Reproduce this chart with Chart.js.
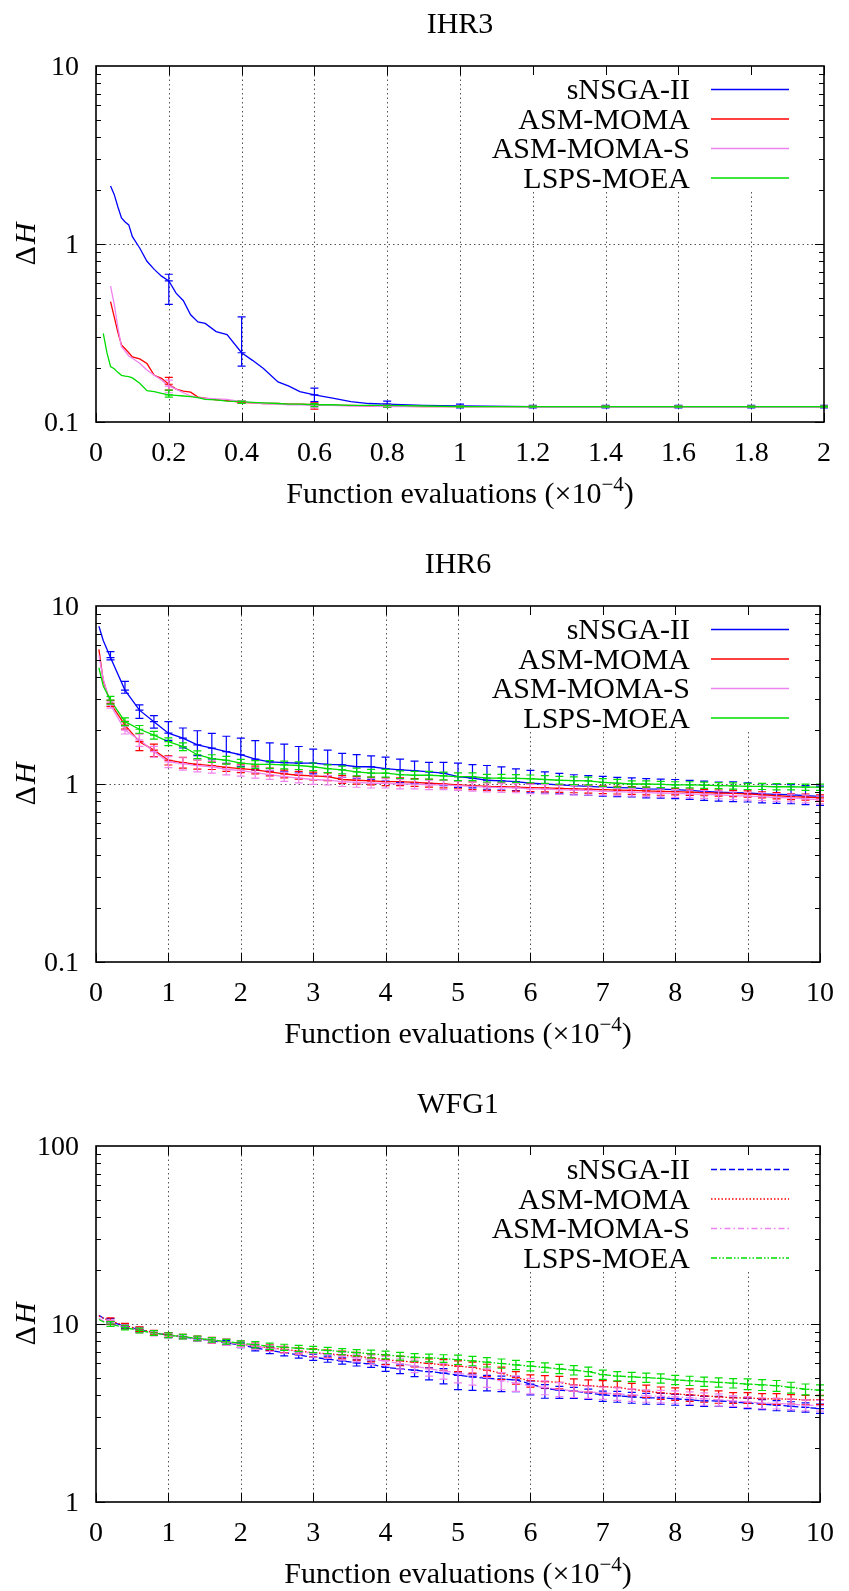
<!DOCTYPE html>
<html>
<head>
<meta charset="utf-8">
<script src="https://cdn.jsdelivr.net/npm/chart.js@4.4.1/dist/chart.umd.min.js"></script>
<style>
  html, body { margin: 0; padding: 0; background: #fff; overflow: hidden; }
  .panel { position: relative; width: 849px; height: 540px; }
  canvas { display: block; }
</style>
</head>
<body>
<div class="panel"><canvas id="ihr3" width="849" height="540"></canvas></div>
<div class="panel"><canvas id="ihr6" width="849" height="540"></canvas></div>
<div class="panel"><canvas id="wfg1" width="849" height="540"></canvas></div>

<script>
// ---- shared ----
const seriesNames = ['sNSGA-II', 'ASM-MOMA', 'ASM-MOMA-S', 'LSPS-MOEA'];
const seriesColors = ['#0000ff', '#ff0000', '#ee82ee', '#00dd00'];
const wfgDashes = [[6, 3], [1.5, 2], [6, 3, 1.5, 3], [6, 2, 1.5, 2, 1.5, 2]];

// ---- IHR3 ----
const ihr3X = [0.02, 0.03, 0.04, 0.05, 0.06, 0.07, 0.08, 0.09, 0.1, 0.12, 0.14, 0.16, 0.18, 0.2, 0.22, 0.24, 0.26, 0.28, 0.3, 0.33, 0.36, 0.4, 0.43, 0.46, 0.5, 0.53, 0.56, 0.6, 0.65, 0.7, 0.75, 0.8, 0.9, 1.0, 1.2, 1.4, 1.6, 1.8, 2.0];
const ihr3Blue = [null, null, 2.12, 1.9, 1.62, 1.40, 1.33, 1.28, 1.10, 0.95, 0.80, 0.72, 0.66, 0.62, 0.53, 0.48, 0.40, 0.365, 0.358, 0.322, 0.31, 0.245, 0.222, 0.20, 0.168, 0.159, 0.148, 0.142, 0.136, 0.13, 0.127, 0.126, 0.124, 0.123, 0.122, 0.122, 0.122, 0.122, 0.122];
const ihr3Red = [null, null, 0.474, 0.39, 0.32, 0.271, 0.258, 0.245, 0.232, 0.226, 0.213, 0.183, 0.176, 0.163, 0.153, 0.149, 0.147, 0.138, 0.136, 0.133, 0.132, 0.129, 0.128, 0.127, 0.127, 0.126, 0.126, 0.125, 0.124, 0.124, 0.123, 0.123, 0.122, 0.122, 0.122, 0.122, 0.122, 0.122, 0.122];
const ihr3Pink = [null, null, 0.58, 0.46, 0.34, 0.265, 0.25, 0.235, 0.228, 0.214, 0.196, 0.183, 0.172, 0.159, 0.153, 0.146, 0.14, 0.137, 0.136, 0.135, 0.134, 0.13, 0.128, 0.127, 0.126, 0.125, 0.125, 0.124, 0.124, 0.123, 0.123, 0.122, 0.122, 0.122, 0.122, 0.122, 0.122, 0.122, 0.122];
const ihr3Green = [0.315, 0.245, 0.205, 0.199, 0.19, 0.183, 0.181, 0.18, 0.177, 0.165, 0.15, 0.148, 0.145, 0.142, 0.141, 0.14, 0.139, 0.137, 0.134, 0.133, 0.131, 0.13, 0.129, 0.128, 0.127, 0.126, 0.126, 0.125, 0.125, 0.124, 0.124, 0.124, 0.123, 0.122, 0.122, 0.122, 0.122, 0.122, 0.122];
// error bars (absolute low / high)
const ihr3BarX = [0.2, 0.4, 0.6, 0.8, 1.0, 1.2, 1.4, 1.6, 1.8, 2.0];
const ihr3BlueLo = [0.458, 0.206, 0.130, 0.121, 0.120, 0.120, 0.120, 0.120, 0.120, 0.120];
const ihr3BlueHi = [0.676, 0.39, 0.155, 0.131, 0.126, 0.124, 0.124, 0.124, 0.124, 0.124];
const ihr3RedLo = [0.151, 0.127, 0.118, 0.121, 0.121, 0.121, 0.121, 0.121, 0.121, 0.121];
const ihr3RedHi = [0.178, 0.132, 0.128, 0.124, 0.123, 0.123, 0.123, 0.123, 0.123, 0.123];
const ihr3PinkLo = [0.146, 0.127, 0.120, 0.121, 0.121, 0.121, 0.121, 0.121, 0.121, 0.121];
const ihr3PinkHi = [0.172, 0.132, 0.127, 0.124, 0.123, 0.123, 0.123, 0.123, 0.123, 0.123];
const ihr3GreenLo = [0.138, 0.127, 0.122, 0.121, 0.121, 0.121, 0.121, 0.121, 0.121, 0.121];
const ihr3GreenHi = [0.151, 0.131, 0.127, 0.124, 0.123, 0.123, 0.123, 0.123, 0.123, 0.123];
const ihr3XTicks = [0, 0.2, 0.4, 0.6, 0.8, 1, 1.2, 1.4, 1.6, 1.8, 2];
const ihr3XLabels = ['0', '0.2', '0.4', '0.6', '0.8', '1', '1.2', '1.4', '1.6', '1.8', '2'];

// ---- IHR6 ----  (first two points are the start, then one every 0.2)
const ihr6X = [0.04, 0.1, 0.2, 0.4, 0.6, 0.8, 1, 1.2, 1.4, 1.6, 1.8, 2, 2.2, 2.4, 2.6, 2.8, 3, 3.2, 3.4, 3.6, 3.8, 4, 4.2, 4.4, 4.6, 4.8, 5, 5.2, 5.4, 5.6, 5.8, 6, 6.2, 6.4, 6.6, 6.8, 7, 7.2, 7.4, 7.6, 7.8, 8, 8.2, 8.4, 8.6, 8.8, 9, 9.2, 9.4, 9.6, 9.8, 10];
const ihr6Blue = [7.7, 6.4, 5.13, 3.37, 2.6, 2.24, 1.93, 1.81, 1.66, 1.59, 1.52, 1.46, 1.38, 1.33, 1.32, 1.31, 1.31, 1.29, 1.28, 1.25, 1.25, 1.22, 1.20, 1.19, 1.17, 1.15, 1.10, 1.08, 1.05, 1.04, 1.03, 1.01, 1.0, 0.99, 0.98, 0.97, 0.96, 0.955, 0.95, 0.94, 0.935, 0.93, 0.92, 0.91, 0.90, 0.895, 0.89, 0.88, 0.875, 0.87, 0.86, 0.853];
const ihr6Red = [5.7, 3.8, 2.84, 2.14, 1.73, 1.55, 1.36, 1.32, 1.29, 1.27, 1.24, 1.22, 1.20, 1.17, 1.14, 1.12, 1.11, 1.10, 1.06, 1.05, 1.04, 1.03, 1.03, 1.02, 1.01, 1.0, 0.99, 0.98, 0.97, 0.965, 0.96, 0.955, 0.95, 0.945, 0.94, 0.935, 0.93, 0.925, 0.92, 0.915, 0.91, 0.905, 0.9, 0.895, 0.89, 0.885, 0.88, 0.87, 0.86, 0.85, 0.845, 0.835];
const ihr6Pink = [5.3, 3.9, 2.78, 2.01, 1.77, 1.52, 1.33, 1.30, 1.27, 1.25, 1.21, 1.19, 1.16, 1.13, 1.10, 1.08, 1.06, 1.05, 1.03, 1.02, 1.01, 1.01, 1.0, 1.0, 0.99, 0.99, 0.98, 0.97, 0.96, 0.955, 0.95, 0.94, 0.935, 0.93, 0.925, 0.92, 0.91, 0.905, 0.9, 0.895, 0.89, 0.885, 0.88, 0.875, 0.87, 0.86, 0.855, 0.85, 0.84, 0.835, 0.825, 0.815];
const ihr6Green = [4.5, 3.55, 2.96, 2.24, 2.03, 1.88, 1.73, 1.62, 1.46, 1.39, 1.36, 1.31, 1.29, 1.29, 1.28, 1.27, 1.25, 1.22, 1.20, 1.17, 1.15, 1.15, 1.13, 1.12, 1.12, 1.11, 1.10, 1.10, 1.08, 1.08, 1.075, 1.07, 1.06, 1.05, 1.045, 1.04, 1.02, 1.01, 1.0, 1.0, 0.995, 0.99, 0.99, 0.985, 0.98, 0.975, 0.97, 0.97, 0.965, 0.965, 0.96, 0.96];
// error bars at x = 0.2 ... 10, in percent of the value (up / down)
const ihr6BlueUp = [8, 12, 7, 8, 16, 14, 20, 21, 22, 24, 27, 28, 27, 24, 20, 20, 16, 17, 15, 16, 15, 13, 13, 15, 19, 19, 21, 20, 18, 18, 17, 16, 15, 15, 15, 14, 14, 14, 14, 14, 14, 14, 14, 15, 14, 14, 14, 14, 14, 14];
const ihr6BlueDn = [3, 4, 10, 8, 9, 12, 13, 13, 14, 14, 13, 11, 11, 12, 13, 14, 15, 14, 15, 15, 15, 15, 14, 15, 13, 12, 11, 11, 11, 11, 11, 11, 11, 11, 11, 11, 11, 11, 11, 11, 11, 11, 11, 11, 11, 11, 11, 11, 11, 11];
const ihr6RedErr = [4, 5, 11, 8, 6, 7, 6, 5, 5, 5, 5, 5, 5, 5, 5, 5, 5, 5, 5, 5, 5, 5, 5, 5, 5, 5, 5, 5, 5, 5, 5, 5, 5, 5, 5, 5, 5, 5, 5, 4, 4, 4, 4, 4, 4, 4, 4, 4, 4, 4];
const ihr6PinkErr = [4, 5, 8, 7, 7, 8, 8, 8, 7, 7, 7, 6, 6, 6, 6, 6, 6, 6, 6, 6, 6, 6, 6, 6, 6, 6, 6, 6, 6, 6, 6, 6, 6, 6, 5, 5, 5, 5, 5, 5, 5, 5, 5, 5, 5, 5, 5, 5, 5, 5];
const ihr6GreenErr = [5, 5, 5, 5, 5, 5, 5, 5, 5, 5, 5, 5, 5, 5, 5, 5, 5, 5, 5, 5, 5, 5, 5, 5, 5, 5, 5, 5, 5, 5, 5, 5, 5, 5, 5, 5, 4, 4, 4, 4, 4, 4, 4, 4, 4, 4, 4, 4, 4, 4];
const tenXTicks = [0, 1, 2, 3, 4, 5, 6, 7, 8, 9, 10];
const tenXLabels = ['0', '1', '2', '3', '4', '5', '6', '7', '8', '9', '10'];

// ---- WFG1 ----
const wfg1X = ihr6X;
const wfg1Blue = [11.2, 10.8, 10.3, 9.7, 9.3, 8.9, 8.65, 8.45, 8.25, 8.05, 7.85, 7.6, 7.35, 7.1, 6.9, 6.7, 6.5, 6.35, 6.2, 6.05, 5.95, 5.7, 5.6, 5.5, 5.4, 5.3, 5.15, 5.05, 4.95, 4.9, 4.85, 4.6, 4.35, 4.25, 4.2, 4.1, 4.0, 3.95, 3.9, 3.85, 3.85, 3.8, 3.75, 3.7, 3.7, 3.65, 3.6, 3.55, 3.5, 3.45, 3.4, 3.35];
const wfg1Red = [11.1, 10.8, 10.4, 9.8, 9.35, 8.95, 8.7, 8.5, 8.3, 8.1, 7.9, 7.7, 7.5, 7.35, 7.2, 7.05, 6.9, 6.8, 6.7, 6.6, 6.45, 6.3, 6.2, 6.1, 6.0, 5.9, 5.8, 5.7, 5.5, 5.3, 5.0, 4.8, 4.75, 4.7, 4.55, 4.5, 4.45, 4.4, 4.3, 4.2, 4.1, 4.05, 4.0, 3.95, 3.9, 3.85, 3.85, 3.8, 3.8, 3.78, 3.75, 3.75];
const wfg1Pink = [10.8, 10.4, 10.1, 9.6, 9.2, 8.85, 8.6, 8.45, 8.25, 8.05, 7.9, 7.7, 7.5, 7.3, 7.15, 7.0, 6.85, 6.75, 6.6, 6.45, 6.3, 6.2, 6.0, 5.8, 5.6, 5.45, 5.3, 5.15, 5.0, 4.8, 4.65, 4.5, 4.4, 4.3, 4.2, 4.15, 4.1, 4.05, 4.0, 3.95, 3.92, 3.9, 3.85, 3.8, 3.75, 3.7, 3.65, 3.6, 3.58, 3.55, 3.5, 3.48];
const wfg1Green = [10.6, 10.3, 10.0, 9.55, 9.2, 8.9, 8.65, 8.5, 8.3, 8.15, 7.95, 7.8, 7.65, 7.5, 7.4, 7.3, 7.2, 7.1, 7.0, 6.9, 6.8, 6.7, 6.6, 6.5, 6.45, 6.4, 6.3, 6.2, 6.1, 6.0, 5.9, 5.8, 5.7, 5.6, 5.5, 5.4, 5.2, 5.1, 5.05, 5.0, 4.95, 4.85, 4.8, 4.75, 4.7, 4.65, 4.6, 4.55, 4.5, 4.4, 4.3, 4.25];
const wfg1BlueUp = [4, 3, 3, 3, 3, 3, 3, 3, 3, 3, 4, 4, 4, 4, 4, 4, 4, 4, 4, 4, 5, 5, 5, 6, 4, 4, 4, 4, 4, 4, 5, 5, 5, 5, 5, 6, 6, 6, 6, 6, 6, 6, 6, 6, 6, 6, 6, 6, 6, 6];
const wfg1BlueDn = [3, 3, 3, 3, 3, 3, 3, 3, 3, 3, 4, 4, 4, 4, 4, 4, 4, 4, 4, 5, 6, 8, 10, 13, 17, 16, 15, 15, 14, 13, 12, 10, 9, 8, 8, 8, 8, 8, 8, 8, 7, 7, 7, 7, 7, 7, 7, 6, 6, 6];
const wfg1RedErr = [4, 3, 3, 3, 3, 3, 3, 4, 4, 4, 4, 4, 4, 4, 5, 5, 5, 5, 5, 6, 6, 6, 6, 7, 7, 7, 8, 8, 8, 8, 8, 8, 8, 8, 8, 8, 8, 8, 8, 8, 8, 8, 8, 7, 7, 7, 7, 6, 6, 6];
const wfg1PinkErr = [4, 3, 3, 3, 3, 3, 3, 3, 4, 4, 4, 4, 4, 4, 5, 5, 5, 5, 6, 6, 7, 8, 9, 10, 12, 12, 12, 11, 10, 10, 9, 9, 8, 8, 8, 8, 8, 8, 8, 8, 8, 8, 8, 7, 7, 7, 7, 7, 7, 7];
const wfg1GreenErr = [3, 3, 3, 3, 3, 3, 3, 3, 3, 3, 4, 4, 4, 4, 4, 4, 4, 4, 5, 5, 5, 5, 5, 5, 6, 6, 6, 6, 6, 6, 6, 6, 6, 6, 6, 6, 6, 6, 6, 6, 6, 6, 6, 6, 7, 7, 7, 7, 7, 7];

// ---- helpers ----
const FONT = "'Liberation Serif', 'Times New Roman', serif";

function barsFromAbs(xs, lineX, lineY, lo, hi) {
  return xs.map((x, i) => {
    const j = lineX.findIndex(v => Math.abs(v - x) < 1e-9);
    return { x: x, mid: lineY[j], lo: lo[i], hi: hi[i] };
  });
}
function barsFromPct(lineX, lineY, up, dn) {
  // bars sit on every point from x = 0.2 on (index 2)
  return up.map((u, i) => {
    const v = lineY[i + 2];
    return { x: lineX[i + 2], mid: v, lo: v * (1 - dn[i] / 100), hi: v * (1 + u / 100) };
  });
}

const gnuplotLook = {
  id: 'gnuplotLook',
  beforeDatasetsDraw(chart, args, o) {
    const { ctx, chartArea: a, scales: { x, y } } = chart;
    ctx.save();
    ctx.strokeStyle = '#555';
    ctx.lineWidth = 1;
    ctx.setLineDash([1.5, 3]);
    o.xTicks.forEach(v => {
      if (v <= x.min || v >= x.max) return;
      const px = Math.round(x.getPixelForValue(v)) + 0.5;
      const top = px > o.keyLeft ? o.keyBottom : a.top;
      ctx.beginPath(); ctx.moveTo(px, top); ctx.lineTo(px, a.bottom); ctx.stroke();
    });
    o.yTicks.forEach(v => {
      if (v <= y.min || v >= y.max) return;
      const py = Math.round(y.getPixelForValue(v)) + 0.5;
      ctx.beginPath(); ctx.moveTo(a.left, py); ctx.lineTo(a.right, py); ctx.stroke();
    });
    ctx.restore();
  },
  afterDatasetsDraw(chart, args, o) {
    const { ctx, chartArea: a, scales: { x, y } } = chart;
    // error bars
    ctx.save();
    ctx.beginPath(); ctx.rect(a.left - 4, a.top, a.right - a.left + 8, a.bottom - a.top); ctx.clip();
    o.bars.forEach((set, si) => {
      ctx.strokeStyle = seriesColors[si];
      ctx.lineWidth = 1.2;
      ctx.setLineDash([]);
      set.forEach(b => {
        const px = x.getPixelForValue(b.x);
        const pl = y.getPixelForValue(b.lo), ph = y.getPixelForValue(b.hi), pm = y.getPixelForValue(b.mid);
        ctx.beginPath();
        ctx.moveTo(px, pl); ctx.lineTo(px, ph);
        [pl, ph, pm].forEach(py => { ctx.moveTo(px - 4, py); ctx.lineTo(px + 4, py); });
        ctx.stroke();
      });
    });
    ctx.restore();

    // frame and inward ticks
    ctx.save();
    ctx.strokeStyle = '#000';
    ctx.lineWidth = 1;
    ctx.beginPath();
    o.xTicks.forEach(v => {
      const px = Math.round(x.getPixelForValue(v)) + 0.5;
      ctx.moveTo(px, a.bottom); ctx.lineTo(px, a.bottom - 9);
      ctx.moveTo(px, a.top); ctx.lineTo(px, a.top + 9);
    });
    const d0 = Math.log10(y.min), d1 = Math.log10(y.max);
    for (let d = d0; d < d1; d++) {
      for (let m = 1; m <= 9; m++) {
        const py = Math.round(y.getPixelForValue(m * Math.pow(10, d))) + 0.5;
        const len = m === 1 ? 9 : 5;
        ctx.moveTo(a.left, py); ctx.lineTo(a.left + len, py);
        ctx.moveTo(a.right, py); ctx.lineTo(a.right - len, py);
      }
    }
    ctx.stroke();
    ctx.lineWidth = 1.6;
    ctx.strokeRect(a.left, a.top, a.right - a.left, a.bottom - a.top);
    ctx.restore();

    // key
    ctx.save();
    ctx.font = '30px ' + FONT;
    ctx.fillStyle = '#000';
    ctx.textAlign = 'right';
    ctx.textBaseline = 'alphabetic';
    seriesNames.forEach((name, i) => {
      const ry = o.keyRows[i];
      ctx.fillText(name, 690, ry + 10);
      ctx.strokeStyle = seriesColors[i];
      ctx.lineWidth = 1.4;
      ctx.setLineDash(o.dashes ? o.dashes[i] : []);
      ctx.beginPath(); ctx.moveTo(711, ry + 0.5); ctx.lineTo(789, ry + 0.5); ctx.stroke();
    });
    ctx.restore();

    // title, axis labels
    const cx = (a.left + a.right) / 2;
    ctx.save();
    ctx.fillStyle = '#000';
    ctx.font = '30px ' + FONT;
    ctx.textAlign = 'center';
    ctx.textBaseline = 'alphabetic';
    ctx.fillText(o.title, cx, 33);

    const main = 'Function evaluations (\u00d710', sup = '\u22124', close = ')';
    ctx.textAlign = 'left';
    ctx.font = '30px ' + FONT;
    const w1 = ctx.measureText(main).width, w3 = ctx.measureText(close).width;
    ctx.font = '21px ' + FONT;
    const w2 = ctx.measureText(sup).width;
    let sx = cx - (w1 + w2 + w3) / 2;
    const base = 503;
    ctx.font = '30px ' + FONT;
    ctx.fillText(main, sx, base);
    ctx.font = '21px ' + FONT;
    ctx.fillText(sup, sx + w1, base - 12);
    ctx.font = '30px ' + FONT;
    ctx.fillText(close, sx + w1 + w2, base);

    ctx.translate(27, (a.top + a.bottom) / 2);
    ctx.rotate(-Math.PI / 2);
    ctx.font = '30px ' + FONT;
    const wd = ctx.measureText('\u0394').width;
    ctx.font = 'italic 30px ' + FONT;
    const wh = ctx.measureText('H').width;
    ctx.textBaseline = 'middle';
    ctx.font = '30px ' + FONT;
    ctx.fillText('\u0394', -(wd + wh + 2) / 2, 0);
    ctx.font = 'italic 30px ' + FONT;
    ctx.fillText('H', -(wd + wh + 2) / 2 + wd + 2, 0);
    ctx.restore();
  }
};

function makePanel(id, p) {
  const ys = [p.blue, p.red, p.pink, p.green];
  const datasets = ys.map((arr, i) => ({
    label: seriesNames[i],
    data: p.x.map((xv, j) => ({ x: xv, y: arr[j] })),
    borderColor: seriesColors[i],
    borderWidth: 1.3,
    borderDash: p.dashes ? p.dashes[i] : [],
    pointRadius: 0,
    tension: 0,
    fill: false,
    order: 4 - i
  }));
  return new Chart(document.getElementById(id), {
    type: 'line',
    data: { datasets },
    options: {
      responsive: false,
      animation: false,
      devicePixelRatio: 1,
      layout: { padding: { top: 66, right: 25, left: 0, bottom: 0 } },
      plugins: {
        legend: { display: false },
        tooltip: { enabled: false },
        title: { display: false },
        gnuplotLook: {
          title: p.title, xTicks: p.xTicks, yTicks: p.yTicks, bars: p.bars, dashes: p.dashes,
          keyRows: [89, 118.5, 148, 177.5], keyLeft: 485, keyBottom: 192
        }
      },
      scales: {
        x: {
          type: 'linear', min: 0, max: p.xMax,
          afterFit: s => { s.height = 118; },
          afterBuildTicks: s => { s.ticks = p.xTicks.map(v => ({ value: v })); },
          grid: { display: false, drawTicks: false },
          border: { display: false },
          ticks: {
            autoSkip: false, maxRotation: 0, padding: 15, color: '#000',
            font: { family: FONT, size: 28 },
            callback: (v, i) => p.xLabels[i]
          }
        },
        y: {
          type: 'logarithmic', min: p.yTicks[0], max: p.yTicks[p.yTicks.length - 1],
          afterFit: s => { s.width = 96; },
          afterBuildTicks: s => { s.ticks = p.yTicks.map(v => ({ value: v })); },
          grid: { display: false, drawTicks: false },
          border: { display: false },
          ticks: {
            autoSkip: false, padding: 17, color: '#000', labelOffset: 2,
            font: { family: FONT, size: 28 },
            callback: (v, i) => p.yLabels[i]
          }
        }
      }
    },
    plugins: [gnuplotLook]
  });
}

makePanel('ihr3', {
  title: 'IHR3', x: ihr3X, blue: ihr3Blue, red: ihr3Red, pink: ihr3Pink, green: ihr3Green,
  xMax: 2, xTicks: ihr3XTicks, xLabels: ihr3XLabels,
  yTicks: [0.1, 1, 10], yLabels: ['0.1', '1', '10'],
  bars: [
    barsFromAbs(ihr3BarX, ihr3X, ihr3Blue, ihr3BlueLo, ihr3BlueHi),
    barsFromAbs(ihr3BarX, ihr3X, ihr3Red, ihr3RedLo, ihr3RedHi),
    barsFromAbs(ihr3BarX, ihr3X, ihr3Pink, ihr3PinkLo, ihr3PinkHi),
    barsFromAbs(ihr3BarX, ihr3X, ihr3Green, ihr3GreenLo, ihr3GreenHi)
  ]
});

makePanel('ihr6', {
  title: 'IHR6', x: ihr6X, blue: ihr6Blue, red: ihr6Red, pink: ihr6Pink, green: ihr6Green,
  xMax: 10, xTicks: tenXTicks, xLabels: tenXLabels,
  yTicks: [0.1, 1, 10], yLabels: ['0.1', '1', '10'],
  bars: [
    barsFromPct(ihr6X, ihr6Blue, ihr6BlueUp, ihr6BlueDn),
    barsFromPct(ihr6X, ihr6Red, ihr6RedErr, ihr6RedErr),
    barsFromPct(ihr6X, ihr6Pink, ihr6PinkErr, ihr6PinkErr),
    barsFromPct(ihr6X, ihr6Green, ihr6GreenErr, ihr6GreenErr)
  ]
});

makePanel('wfg1', {
  title: 'WFG1', x: wfg1X, blue: wfg1Blue, red: wfg1Red, pink: wfg1Pink, green: wfg1Green,
  xMax: 10, xTicks: tenXTicks, xLabels: tenXLabels,
  yTicks: [1, 10, 100], yLabels: ['1', '10', '100'],
  dashes: wfgDashes,
  bars: [
    barsFromPct(wfg1X, wfg1Blue, wfg1BlueUp, wfg1BlueDn),
    barsFromPct(wfg1X, wfg1Red, wfg1RedErr, wfg1RedErr),
    barsFromPct(wfg1X, wfg1Pink, wfg1PinkErr, wfg1PinkErr),
    barsFromPct(wfg1X, wfg1Green, wfg1GreenErr, wfg1GreenErr)
  ]
});
</script>
</body>
</html>
